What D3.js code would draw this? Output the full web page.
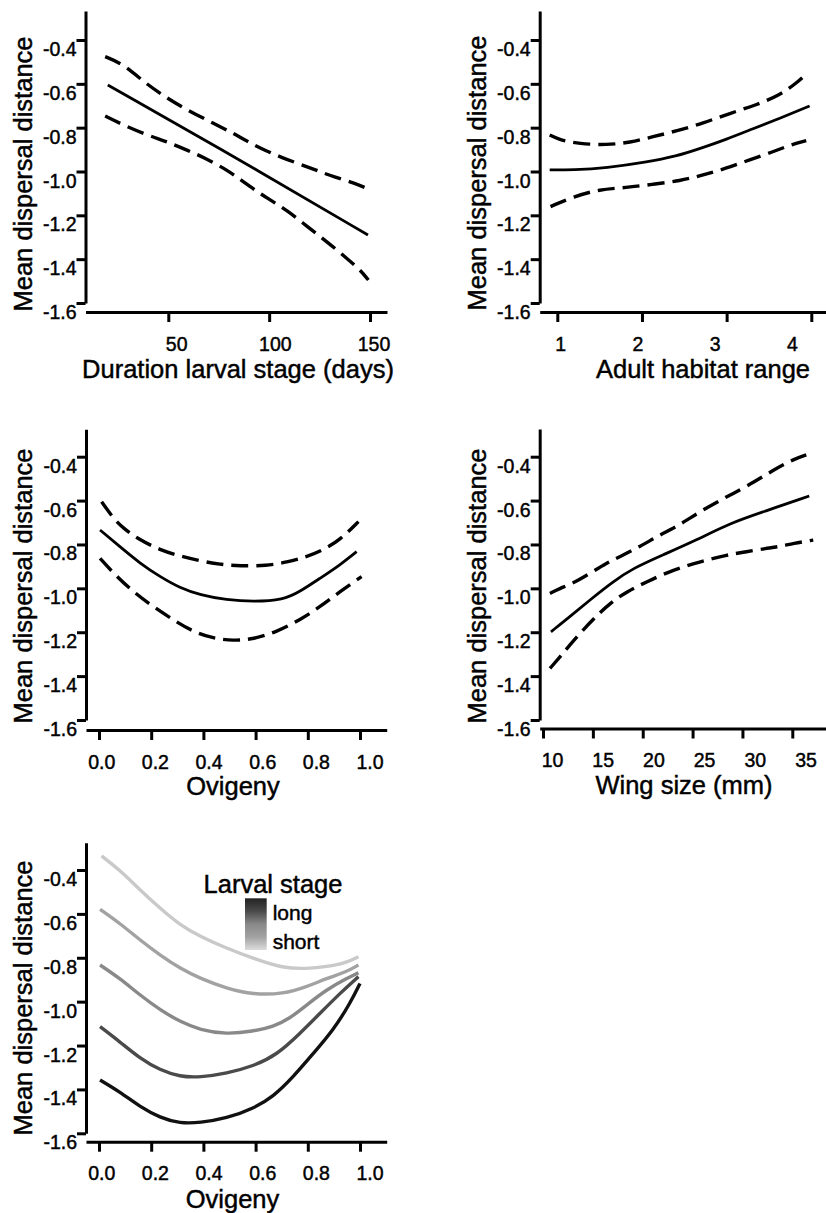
<!DOCTYPE html>
<html>
<head>
<meta charset="utf-8">
<script src="https://cdn.jsdelivr.net/npm/d3@7"></script>
<style>
  html, body { margin: 0; padding: 0; background: #fff; }
  svg { display: block; font-family: "Liberation Sans", Arial, Helvetica, sans-serif; }
  svg text { stroke: #000; stroke-width: 0.45px; }
</style>
</head>
<body>
<svg id="chart" width="826" height="1213"></svg>
<script>
// ---- Tick values ----
const yTicks = [-0.4, -0.6, -0.8, -1.0, -1.2, -1.4, -1.6];
const durationTicks = [50, 100, 150];
const habitatTicks = [1, 2, 3, 4];
const ovigenyTicks = [0, 0.2, 0.4, 0.6, 0.8, 1.0];
const wingTicks = [10, 15, 20, 25, 30, 35];

// ---- Duration of larval stage (days): fit and confidence band ----
const durationFit = [[20, -0.605], [100, -1.024], [149, -1.29]];
const durationUpper = [[18.7, -0.476], [27.7, -0.510], [37.7, -0.590], [47.6, -0.655], [59.2, -0.719],
  [72.4, -0.780], [82.3, -0.826], [88.9, -0.862], [98.8, -0.908], [108.7, -0.945], [118.7, -0.978],
  [125.3, -1.001], [131.9, -1.024], [141.8, -1.051], [148.4, -1.077]];
const durationLower = [[18.7, -0.747], [27.7, -0.788], [39.3, -0.833], [49.3, -0.864], [59.2, -0.902],
  [69.1, -0.942], [79, -0.993], [85.6, -1.036], [92.2, -1.080], [98.8, -1.120], [108.7, -1.176],
  [118.7, -1.250], [128.6, -1.320], [138.5, -1.396], [145.1, -1.449], [149.2, -1.495]];

// ---- Adult habitat range ----
const habitatFit = [[0.91, -0.993], [1.19, -0.993], [1.58, -0.984], [2.05, -0.958], [2.41, -0.930],
  [2.68, -0.896], [3.0, -0.853], [3.31, -0.805], [3.63, -0.757], [3.98, -0.701]];
const habitatUpper = [[0.91, -0.833], [1.03, -0.856], [1.26, -0.874], [1.58, -0.879], [1.86, -0.868],
  [2.13, -0.841], [2.41, -0.815], [2.72, -0.780], [3.04, -0.734], [3.35, -0.697], [3.63, -0.651],
  [3.82, -0.598], [3.94, -0.555]];
const habitatLower = [[0.92, -1.160], [1.19, -1.115], [1.50, -1.081], [1.81, -1.074], [2.13, -1.058],
  [2.45, -1.043], [2.72, -1.016], [3.0, -0.985], [3.27, -0.947], [3.55, -0.910], [3.75, -0.879],
  [3.94, -0.859]];

// ---- Ovigeny ----
const ovigenyFit = [[0.004, -0.734], [0.080, -0.810], [0.157, -0.886], [0.234, -0.947], [0.310, -0.998],
  [0.387, -1.030], [0.489, -1.053], [0.591, -1.061], [0.706, -1.053], [0.770, -1.015], [0.847, -0.954],
  [0.923, -0.894], [0.987, -0.833]];
const ovigenyUpper = [[0.010, -0.605], [0.055, -0.681], [0.093, -0.726], [0.157, -0.780], [0.234, -0.825],
  [0.310, -0.853], [0.387, -0.875], [0.464, -0.891], [0.540, -0.898], [0.642, -0.897], [0.719, -0.881],
  [0.796, -0.856], [0.859, -0.825], [0.923, -0.780], [0.994, -0.696]];
const ovigenyLower = [[0.004, -0.863], [0.068, -0.947], [0.131, -1.015], [0.208, -1.084], [0.285, -1.144],
  [0.361, -1.198], [0.438, -1.228], [0.515, -1.239], [0.591, -1.232], [0.681, -1.198], [0.770, -1.144],
  [0.847, -1.084], [0.923, -1.015], [1.006, -0.947]];

// ---- Wing size (mm) ----
const wingFit = [[10.8, -1.198], [12.7, -1.129], [14.7, -1.053], [17.0, -0.970], [19.0, -0.909],
  [22.0, -0.848], [25.4, -0.780], [28.7, -0.704], [32.1, -0.651], [36.7, -0.579]];
const wingUpper = [[10.7, -1.023], [11.7, -1.000], [13.0, -0.977], [14.7, -0.932], [16.3, -0.886],
  [17.7, -0.856], [19.7, -0.810], [21.7, -0.757], [23.7, -0.711], [25.7, -0.651], [28.1, -0.590],
  [30.4, -0.537], [33.1, -0.461], [35.1, -0.412], [36.4, -0.392]];
const wingLower = [[10.7, -1.365], [11.7, -1.312], [12.7, -1.258], [14.0, -1.190], [15.3, -1.129],
  [16.7, -1.068], [18.4, -1.015], [20.4, -0.970], [23.0, -0.916], [25.7, -0.879], [28.4, -0.848],
  [30.4, -0.833], [32.4, -0.818], [33.7, -0.810], [35.1, -0.795], [37.1, -0.780]];

// ---- Ovigeny x larval stage interaction (short -> long) ----
const stageColors = ["#c9c9c9", "#a2a2a2", "#898989", "#4a4a4a", "#111111"];
const stageShortest = [[0.010, -0.336], [0.080, -0.400], [0.157, -0.491], [0.234, -0.574], [0.310, -0.650],
  [0.387, -0.703], [0.489, -0.757], [0.591, -0.803], [0.706, -0.848], [0.796, -0.850], [0.872, -0.841],
  [0.949, -0.822], [0.994, -0.795]];
const stageShort = [[0.004, -0.579], [0.080, -0.643], [0.157, -0.719], [0.234, -0.788], [0.310, -0.848],
  [0.387, -0.894], [0.489, -0.940], [0.591, -0.968], [0.706, -0.965], [0.796, -0.932], [0.872, -0.894],
  [0.949, -0.864], [0.994, -0.833]];
const stageMedium = [[0.004, -0.833], [0.080, -0.894], [0.157, -0.970], [0.234, -1.038], [0.310, -1.091],
  [0.387, -1.129], [0.489, -1.149], [0.591, -1.135], [0.668, -1.114], [0.732, -1.076], [0.796, -1.015],
  [0.872, -0.945], [0.949, -0.894], [0.994, -0.868]];
const stageLong = [[0.004, -1.114], [0.080, -1.183], [0.157, -1.259], [0.234, -1.312], [0.310, -1.342],
  [0.387, -1.345], [0.489, -1.327], [0.591, -1.294], [0.681, -1.243], [0.770, -1.145], [0.847, -1.053],
  [0.923, -0.962], [0.994, -0.886]];
const stageLongest = [[0.004, -1.357], [0.080, -1.411], [0.157, -1.479], [0.234, -1.529], [0.310, -1.555],
  [0.387, -1.552], [0.489, -1.532], [0.591, -1.487], [0.668, -1.433], [0.745, -1.342], [0.821, -1.236],
  [0.898, -1.129], [0.962, -1.008], [1.0, -0.917]];

const yTitleText = "Mean dispersal distance";

const svg = d3.select("#chart");
const fmt1 = d => d.toFixed(1);
const fmt0 = d => String(d);
const FONT = "'Liberation Sans', Arial, Helvetica, sans-serif";
const TICK_FS = 19.5;
const TITLE_FS = 25.5;

const solidStyle = { stroke: "#000", width: 2.8, dash: null };
const dashStyle = { stroke: "#000", width: 3.4, dash: "17,8" };

const panels = [
  { axisX: 85.5, topPx: 11, yRef: [303, 40], axisY: 312,
    xRefVals: [50, 150], xRefPx: [168.3, 370], xExtent: [85.5, 387],
    ticks: durationTicks, labelPx: [176.7, 374], fmt: fmt0,
    xTitle: "Duration larval stage (days)", xTitlePos: [238, 378],
    yTitlePos: [32, 174],
    series: [
      { data: durationUpper, style: dashStyle },
      { data: durationLower, style: dashStyle },
      { data: durationFit, style: solidStyle }
    ] },
  { axisX: 539.7, topPx: 11, yRef: [303, 40], axisY: 312,
    xRefVals: [1, 4], xRefPx: [557.3, 811.3], xExtent: [539.7, 826],
    ticks: habitatTicks, labelPx: [560.7, 792.5], fmt: fmt0,
    xTitle: "Adult habitat range", xTitlePos: [703, 378],
    yTitlePos: [486, 173],
    series: [
      { data: habitatUpper, style: dashStyle },
      { data: habitatLower, style: dashStyle },
      { data: habitatFit, style: solidStyle }
    ] },
  { axisX: 86, topPx: 429.3, yRef: [720, 456.7], axisY: 730,
    xRefVals: [0, 1], xRefPx: [99, 360], xExtent: [86, 386.7],
    ticks: ovigenyTicks, labelPx: [101.7, 370], fmt: fmt1,
    xTitle: "Ovigeny", xTitlePos: [233, 795],
    yTitlePos: [32, 586],
    series: [
      { data: ovigenyUpper, style: dashStyle },
      { data: ovigenyLower, style: dashStyle },
      { data: ovigenyFit, style: solidStyle }
    ] },
  { axisX: 539.7, topPx: 429, yRef: [720, 456.7], axisY: 728.5,
    xRefVals: [10, 35], xRefPx: [543, 792.3], xExtent: [539.7, 826],
    ticks: wingTicks, labelPx: [552.5, 806], fmt: fmt0,
    xTitle: "Wing size (mm)", xTitlePos: [684, 794],
    yTitlePos: [486, 586],
    series: [
      { data: wingUpper, style: dashStyle },
      { data: wingLower, style: dashStyle },
      { data: wingFit, style: solidStyle }
    ] },
  { axisX: 86, topPx: 842.7, yRef: [1133.3, 870], axisY: 1141.7,
    xRefVals: [0, 1], xRefPx: [99, 360], xExtent: [86, 386.7],
    ticks: ovigenyTicks, labelPx: [101.7, 370], fmt: fmt1,
    xTitle: "Ovigeny", xTitlePos: [232.5, 1208],
    yTitlePos: [32, 998],
    series: [stageShortest, stageShort, stageMedium, stageLong, stageLongest].map((d, i) => ({
      data: d, style: { stroke: stageColors[i], width: 3.4, dash: null }
    })) }
];

panels.forEach(p => {
  const g = svg.append("g");

  // y scale: -1.6 .. -0.4 fixed by the tick positions, axis line runs up past -0.4
  const y0 = d3.scaleLinear().domain([-1.6, -0.4]).range(p.yRef);
  const y = d3.scaleLinear().domain([-1.6, y0.invert(p.topPx)]).range([p.yRef[0], p.topPx]);

  // x scale from two reference ticks, extended to the axis line ends
  const x0 = d3.scaleLinear().domain(p.xRefVals).range(p.xRefPx);
  const x = d3.scaleLinear().domain([x0.invert(p.xExtent[0]), x0.invert(p.xExtent[1])]).range(p.xExtent);

  // tick label positions along the x axis
  const xLab = d3.scaleLinear().domain([p.ticks[0], p.ticks[p.ticks.length - 1]]).range(p.labelPx);

  // y axis
  const yAxis = g.append("g")
    .attr("transform", `translate(${p.axisX},0)`)
    .call(d3.axisLeft(y).tickValues(yTicks).tickSize(9).tickSizeOuter(0).tickPadding(0).tickFormat(fmt1))
    .attr("font-size", TICK_FS)
    .attr("font-family", FONT);
  yAxis.select(".domain").attr("stroke", "#000").attr("stroke-width", 3);
  yAxis.selectAll(".tick line").attr("stroke", "#000").attr("stroke-width", 3);
  yAxis.selectAll(".tick text")
    .attr("dy", 15.5)
    .attr("fill", "#000");

  // x axis
  const xAxis = g.append("g")
    .attr("transform", `translate(0,${p.axisY})`)
    .call(d3.axisBottom(x).tickValues(p.ticks).tickSize(10).tickSizeOuter(0).tickFormat(""));
  xAxis.select(".domain").attr("stroke", "#000").attr("stroke-width", 3);
  xAxis.selectAll(".tick line").attr("stroke", "#000").attr("stroke-width", 3);

  g.append("g")
    .attr("font-size", TICK_FS)
    .attr("font-family", FONT)
    .selectAll("text")
    .data(p.ticks)
    .join("text")
    .attr("x", d => xLab(d))
    .attr("y", p.axisY + 38.5)
    .attr("text-anchor", "middle")
    .attr("fill", "#000")
    .text(d => p.fmt(d));

  // axis titles
  g.append("text")
    .attr("x", p.xTitlePos[0])
    .attr("y", p.xTitlePos[1])
    .attr("text-anchor", "middle")
    .attr("fill", "#000")
    .attr("font-size", TITLE_FS)
    .attr("font-family", FONT)
    .text(p.xTitle);

  g.append("text")
    .attr("transform", `translate(${p.yTitlePos[0]},${p.yTitlePos[1]}) rotate(-90)`)
    .attr("text-anchor", "middle")
    .attr("fill", "#000")
    .attr("font-size", TITLE_FS)
    .attr("font-family", FONT)
    .text(yTitleText);

  // curves
  const line = d3.line()
    .x(d => x(d[0]))
    .y(d => y(d[1]))
    .curve(d3.curveBasis);

  g.append("g").selectAll("path")
    .data(p.series)
    .join("path")
    .attr("d", s => line(s.data))
    .attr("fill", "none")
    .attr("stroke", s => s.style.stroke)
    .attr("stroke-width", s => s.style.width)
    .attr("stroke-dasharray", s => s.style.dash)
    .attr("stroke-linejoin", "round");
});

// legend for larval stage gradient (bottom panel)
const defs = svg.append("defs");
const grad = defs.append("linearGradient")
  .attr("id", "stageGrad")
  .attr("x1", 0).attr("y1", 0).attr("x2", 0).attr("y2", 1);
const gradStops = stageColors.slice().reverse();
grad.selectAll("stop")
  .data(gradStops)
  .join("stop")
  .attr("offset", (d, i) => i / (gradStops.length - 1))
  .attr("stop-color", (d, i) => i === 0 ? "#222" : (i === gradStops.length - 1 ? "#dcdcdc" : d));

const legend = svg.append("g").attr("font-family", FONT);
legend.append("text")
  .attr("x", 273).attr("y", 892.7)
  .attr("text-anchor", "middle")
  .attr("fill", "#000")
  .attr("font-size", TITLE_FS)
  .text("Larval stage");
legend.append("rect")
  .attr("x", 245).attr("y", 898.3)
  .attr("width", 21.7).attr("height", 51.7)
  .attr("fill", "url(#stageGrad)");
legend.append("text")
  .attr("x", 272.7).attr("y", 920)
  .attr("fill", "#000")
  .attr("font-size", 21)
  .text("long");
legend.append("text")
  .attr("x", 272.7).attr("y", 949.3)
  .attr("fill", "#000")
  .attr("font-size", 21)
  .text("short");
</script>
</body>
</html>
